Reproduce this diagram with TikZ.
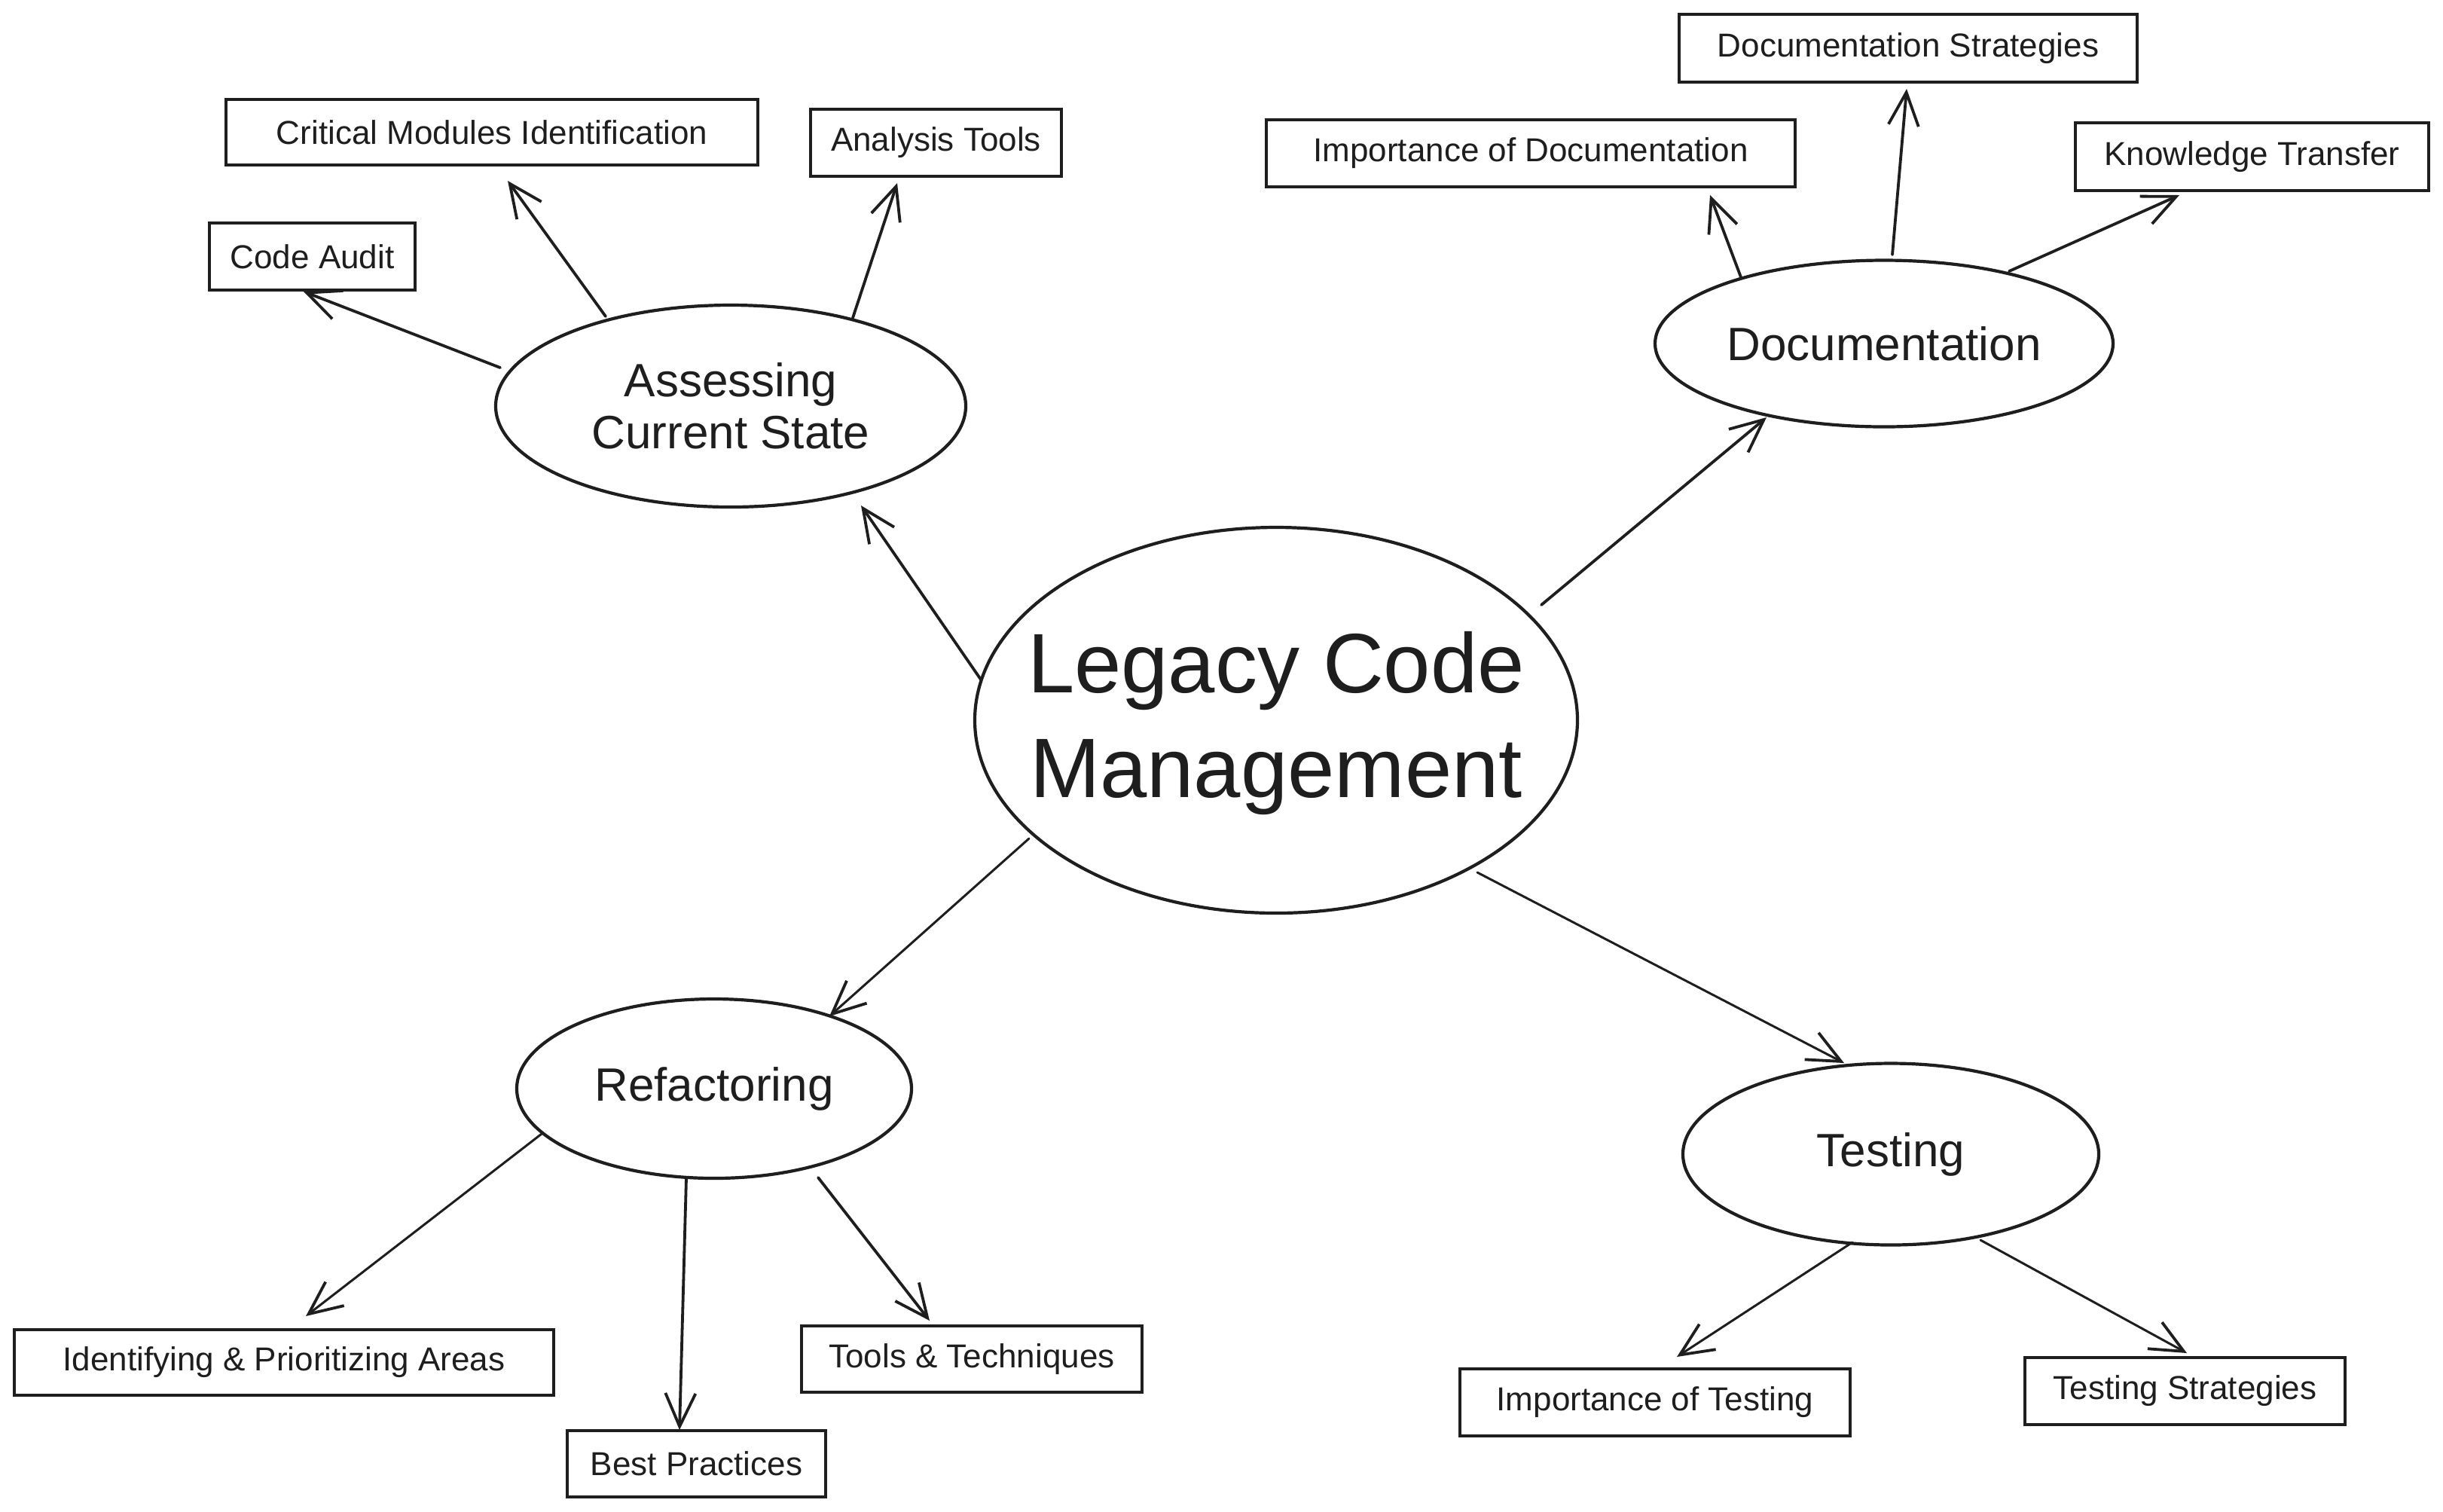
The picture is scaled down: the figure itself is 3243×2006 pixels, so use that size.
\documentclass[tikz,border=0pt]{standalone}
\usepackage{fontspec}
\setmainfont{Liberation Sans}
\usetikzlibrary{arrows.meta,calc,shapes.geometric}
\definecolor{ink}{HTML}{1E1E1E}
\begin{document}
\begin{tikzpicture}[x=0.25pt,y=-0.25pt,
  ell/.style={ellipse,draw=ink,line width=1.05pt,inner sep=0pt},
  ltext/.style={align=center,text=ink,inner sep=0pt},
  box/.style={rectangle,draw=ink,line width=0.95pt,inner sep=0pt,text=ink,font=\fontsize{11}{13}\selectfont},
  conn/.style={draw=ink,line width=0.95pt,line cap=round,-{Straight Barb[length=11pt,width=10pt,line width=0.95pt]}},
  thinconn/.style={conn,line width=0.75pt},
  midfont/.style={font=\fontsize{15.5}{17.3}\selectfont},
]
\fill[white] (0,0) rectangle (3243,2006);
\useasboundingbox (0,0) rectangle (3243,2006);

% central
\node[ell,minimum width=200pt,minimum height=128pt] (legacy) at (1694,956) {};
\node[ltext,font=\fontsize{28}{34.6}\selectfont] (legacyt) at ([yshift=-1pt]legacy.center) {Legacy Code\\Management};

% main branches
\node[ell,minimum width=156pt,minimum height=67pt] (assess) at (970,539) {};
\node[ltext,midfont] (assesst) at (assess.center) {Assessing\\Current State};
\node[ell,minimum width=152pt,minimum height=55.25pt] (doc) at (2501,456) {};
\node[ltext,midfont] (doct) at (doc.center) {Documentation};
\node[ell,minimum width=131pt,minimum height=59.5pt] (refac) at (948,1445) {};
\node[ltext,midfont] (refact) at (refac.center) {Refactoring};
\node[ell,minimum width=138pt,minimum height=60.25pt] (test) at (2510,1532) {};
\node[ltext,midfont] (testt) at (test.center) {Testing};

% leaves
\node[box,minimum width=176.5pt,minimum height=21.75pt] (crit) at (653,175.5) {Critical Modules Identification};
\node[box,minimum width=83.25pt,minimum height=22.25pt] (anal) at (1242.5,189.5) {Analysis Tools};
\node[box,minimum width=68.25pt,minimum height=22.25pt] (audit) at (414.5,340.5) {Code Audit};
\node[box,minimum width=152pt,minimum height=22.5pt] (dstrat) at (2533,64) {Documentation Strategies};
\node[box,minimum width=175.5pt,minimum height=22.25pt] (dimp) at (2032,203.5) {Importance of Documentation};
\node[box,minimum width=117.25pt,minimum height=22.5pt] (know) at (2989.5,208) {Knowledge Transfer};
\node[box,minimum width=179pt,minimum height=21.75pt] (ident) at (377,1808.5) {Identifying \& Prioritizing Areas};
\node[box,minimum width=113pt,minimum height=22pt] (tools) at (1290,1804) {Tools \& Techniques};
\node[box,minimum width=85.75pt,minimum height=22pt] (best) at (924.5,1943) {Best Practices};
\node[box,minimum width=129.5pt,minimum height=22.25pt] (timp) at (2197,1861.5) {Importance of Testing};
\node[box,minimum width=106.25pt,minimum height=22.25pt] (tstrat) at (2900.5,1846.5) {Testing Strategies};

% connectors from the centre
\draw[conn] ($(legacy.center)+(-392,-54)$) -- ($(assess.center)+(173,132)$);
\draw[conn] ($(legacy.center)+(352,-153)$) -- ($(doc.center)+(-156,98)$);
\draw[thinconn] ($(legacy.center)+(-328,157)$) -- ($(refac.center)+(153,-96)$);
\draw[thinconn] ($(legacy.center)+(267,202)$) -- ($(test.center)+(-62,-121)$);

% assessing
\draw[conn] ($(assess.center)+(-306,-51)$) -- ($(audit.center)+(-11.5,46.5)$);
\draw[conn] ($(assess.center)+(-166,-119)$) -- ($(crit.center)+(21,64.5)$);
\draw[conn] ($(assess.center)+(162,-117)$) -- ($(anal.center)+(-51.5,53.5)$);

% documentation
\draw[conn] ($(doc.center)+(-190,-88)$) -- ($(dimp.center)+(238,55.5)$);
\draw[conn] ($(doc.center)+(11,-118)$) -- ($(dstrat.center)+(-2,54)$);
\draw[conn] ($(doc.center)+(166,-96)$) -- ($(know.center)+(-96.5,51)$);

% refactoring
\draw[thinconn] ($(refac.center)+(-229,60)$) -- ($(ident.center)+(29,-61.5)$);
\draw[conn] ($(refac.center)+(-37,119)$) -- ($(best.center)+(-22.5,-45)$);
\draw[conn] ($(refac.center)+(138,118)$) -- ($(tools.center)+(-56,-51)$);

% testing
\draw[thinconn] ($(test.center)+(-51,117)$) -- ($(timp.center)+(29,-60.5)$);
\draw[thinconn] ($(test.center)+(119,114)$) -- ($(tstrat.center)+(2.5,-50.5)$);
\end{tikzpicture}
\end{document}
